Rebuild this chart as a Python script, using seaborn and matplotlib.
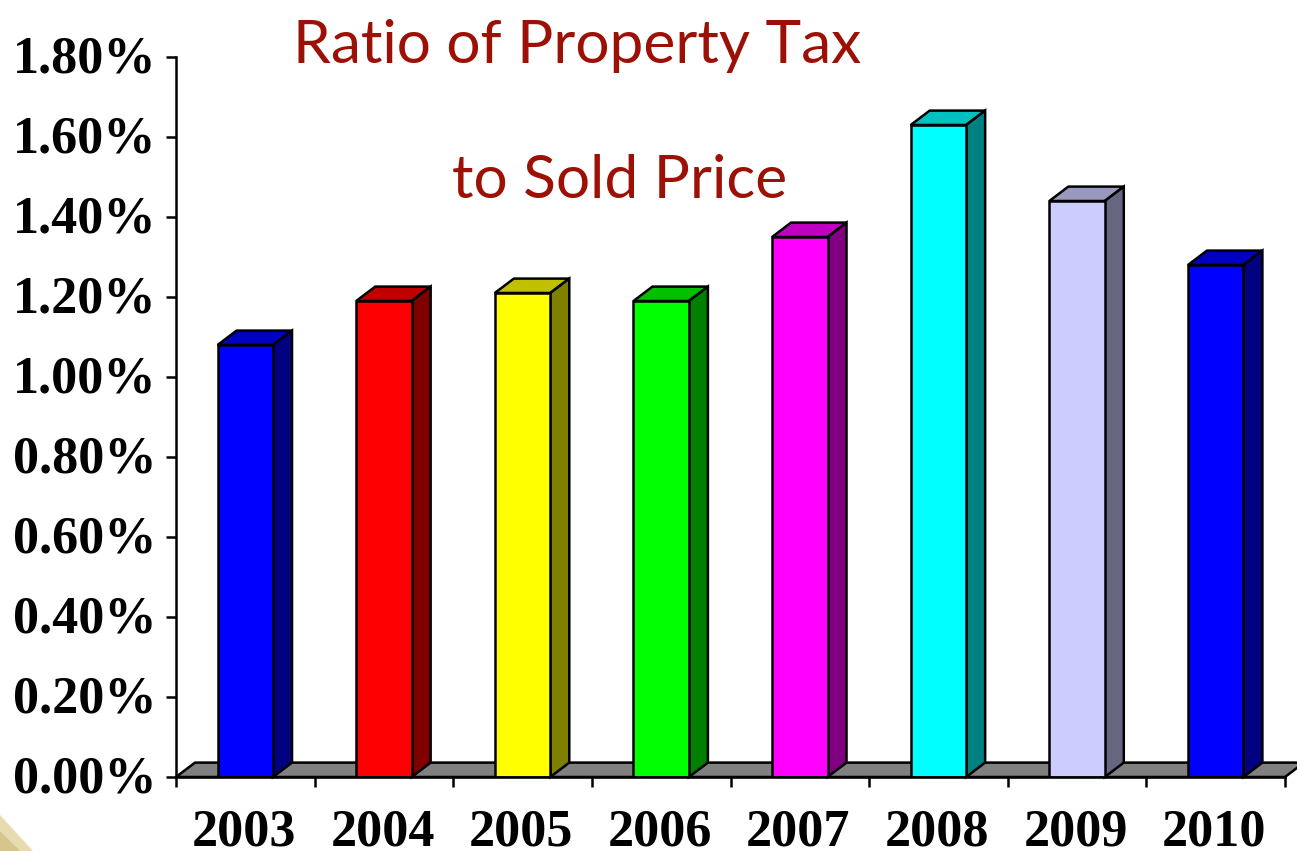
"""
Ratio of property tax to sold price, drawn as a 3D looking column chart.
"""
import matplotlib
matplotlib.use('Agg')
import matplotlib.pyplot as plt
import seaborn as sns
from matplotlib.patches import Polygon
from matplotlib.transforms import ScaledTranslation

years = ['2003', '2004', '2005', '2006', '2007', '2008', '2009', '2010']
ratios = [1.08, 1.19, 1.21, 1.19, 1.35, 1.63, 1.44, 1.28]
front_colors = ['#0000ff', '#ff0000', '#ffff00', '#00ff00',
                '#ff00ff', '#00ffff', '#ccccff', '#0000ff']
top_colors = ['#0000c0', '#c00000', '#c0c000', '#00c000',
              '#c000c0', '#00c0c0', '#9999c0', '#0000c0']
side_colors = ['#000080', '#800000', '#808000', '#008000',
               '#800080', '#008080', '#666680', '#000080']
y_ticks = [0.0, 0.2, 0.4, 0.6, 0.8, 1.0, 1.2, 1.4, 1.6, 1.8]

# depth of the fake 3D effect, in data units
DX = 0.137
DY = 0.036
LW = 1.8


def add_box(ax, bar, top_color, side_color):
    """Draw top and side faces behind the front of a bar."""
    x0 = bar.get_x()
    x1 = x0 + bar.get_width()
    h = bar.get_height()
    ax.add_patch(Polygon([(x0, h), (x1, h), (x1 + DX, h + DY), (x0 + DX, h + DY)],
                         facecolor=top_color, edgecolor='black', lw=LW,
                         clip_on=False, zorder=3))
    ax.add_patch(Polygon([(x1, 0), (x1 + DX, DY), (x1 + DX, h + DY), (x1, h)],
                         facecolor=side_color, edgecolor='black', lw=LW,
                         clip_on=False, zorder=3))


def main():
    sns.set_theme(style='white')
    fig = plt.figure(figsize=(12.97, 8.51), dpi=100)
    ax = fig.add_axes([176 / 1297, 1 - 777 / 851, (1285 - 176) / 1297, 720 / 851])

    sns.barplot(x=years, y=ratios, hue=years, palette=front_colors, legend=False,
                width=0.4, edgecolor='black', linewidth=LW, saturation=1,
                ax=ax, zorder=4)
    ax.set_xlim(-0.5, 7.5)
    ax.set_ylim(0, 1.8)

    # grey floor
    ax.add_patch(Polygon([(-0.5, 0), (7.5, 0), (7.5 + DX, DY), (-0.5 + DX, DY)],
                         facecolor='#808080', edgecolor='black', lw=LW,
                         clip_on=False, zorder=2))
    for bar, top, side in zip(ax.patches[:len(years)], top_colors, side_colors):
        add_box(ax, bar, top, side)

    for s in ['top', 'right']:
        ax.spines[s].set_visible(False)
    for s in ['left', 'bottom']:
        ax.spines[s].set_linewidth(LW)
        ax.spines[s].set_color('black')
        ax.spines[s].set_zorder(5)

    tick_font = {'family': 'Liberation Serif', 'fontweight': 'bold',
                 'fontsize': 37.5, 'color': 'black'}
    ax.set_yticks(y_ticks)
    ax.set_yticklabels([f'{v:.2f}%' for v in y_ticks], **tick_font)
    ax.set_xticks([i - 0.5 for i in range(9)])
    ax.set_xticklabels([''] * 9)
    ax.tick_params(axis='both', length=7.5, width=LW, color='black', left=True, bottom=True)
    ax.tick_params(axis='y', pad=6.5)
    # nudge the y labels up a little
    nudge = ScaledTranslation(0, 2.2 / 72, fig.dpi_scale_trans)
    for label in ax.get_yticklabels():
        label.set_transform(label.get_transform() + nudge)
    for i, year in enumerate(years):
        ax.annotate(year, (i, 0), xytext=(-1, -49), textcoords='offset points',
                    ha='center', va='baseline', annotation_clip=False, **tick_font)

    title_font = {'family': 'Lato', 'color': '#9c1006',
                  'fontsize': 43.5, 'ha': 'center', 'va': 'baseline'}
    fig.text(577 / 1297, 1 - 63 / 851, 'Ratio of Property Tax', **title_font)
    fig.text(620 / 1297, 1 - 198 / 851, 'to Sold Price', **title_font)

    # corner of the slide background
    fig.add_artist(Polygon([(0, 0), (33 / 1297, 0), (0, 36 / 851)],
                           transform=fig.transFigure, facecolor='#e6dcb0',
                           edgecolor='none'))
    fig.add_artist(Polygon([(0, 0), (20 / 1297, 0), (0, 20 / 851)],
                           transform=fig.transFigure, facecolor='#d6c68c',
                           edgecolor='none'))

    fig.savefig('out.png', dpi=100)
    plt.close(fig)


if __name__ == '__main__':
    main()
